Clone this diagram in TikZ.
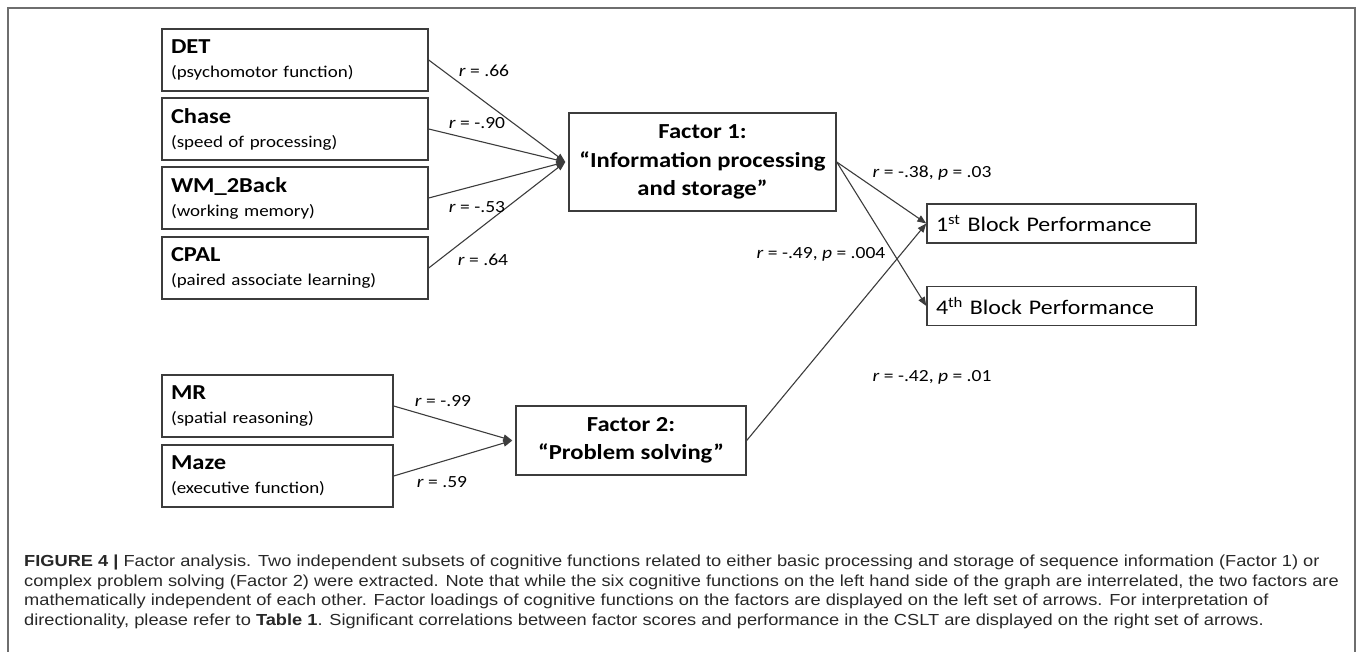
\documentclass[tikz,border=0pt]{standalone}
\usepackage{fontspec}
\setmainfont[FakeStretch=1.15]{Carlito}
\newfontfamily\capfont[FakeStretch=1.14]{Liberation Sans}
\usetikzlibrary{arrows.meta}

\definecolor{traco}{RGB}{60,60,60}
\definecolor{moldura}{RGB}{110,110,110}
\definecolor{legenda}{RGB}{40,40,40}

\begin{document}
\begin{tikzpicture}[x=1pt, y=-1pt,
    caixa/.style={draw=traco, line width=1.4pt, inner ysep=0pt, inner xsep=9pt,
      minimum height=62pt, align=left, font=\fontsize{16.5}{24}\selectfont},
    fator/.style={draw=traco, line width=1.4pt, inner sep=0pt, align=center,
      font=\fontsize{21.4}{28.5}\selectfont\bfseries},
    bloco/.style={draw=traco, line width=1.4pt, inner ysep=0pt, inner xsep=9pt,
      minimum height=39pt, text width=251pt, align=left, font=\fontsize{20.8}{24}\selectfont},
    seta/.style={-{Triangle[length=9pt,width=7pt]}, draw=traco, line width=1.1pt},
    rot/.style={inner sep=0pt, font=\fontsize{17}{18}\selectfont}]

    \useasboundingbox (0,0) rectangle (1357,652);

    % Moldura
    \draw[moldura, line width=1.5pt] (8,652) -- (8,8) -- (1355,8) -- (1355,652);

    % Funcoes cognitivas
    \def\tit{\fontsize{21.3}{24}\selectfont\bfseries}
    \node[caixa, text width=248pt] (D) at (295,60) {{\tit DET}\\(psychomotor function)};
    \node[caixa, text width=248pt] (C) at (295,129) {{\tit Chase}\\(speed of processing)};
    \node[caixa, text width=248pt] (W) at (295,198) {{\tit WM\_2Back}\\(working memory)};
    \node[caixa, text width=248pt] (P) at (295,268) {{\tit CPAL}\\(paired associate learning)};
    \node[caixa, text width=213pt] (M) at (277.5,406) {{\tit MR}\\(spatial reasoning)};
    \node[caixa, text width=213pt] (Z) at (277.5,476) {{\tit Maze}\\(executive function)};

    % Fatores
    \node[fator, minimum width=267pt, minimum height=98pt] (F1) at (702.5,162) {Factor 1:\\“Information processing\\and storage”};
    \node[fator, minimum width=230pt, minimum height=69pt] (F2) at (631,440.5) {Factor 2:\\“Problem solving”};

    % Desempenho
    \node[bloco] (B1) at (1061.5,223.5) {1\textsuperscript{st} Block Performance};
    \node[bloco] (B4) at (1061.5,306) {4\textsuperscript{th} Block Performance};

    % Pontas das setas
    \coordinate (T1) at ([xshift=-3pt]F1.west);
    \coordinate (T2) at ([xshift=-3pt]F2.west);

    % Cargas fatoriais
    \draw[seta] (D.east) -- (T1);
    \draw[seta] (C.east) -- (T1);
    \draw[seta] (W.east) -- (T1);
    \draw[seta] (P.east) -- (T1);
    \draw[seta] (M.east) -- (T2);
    \draw[seta] (Z.east) -- (T2);

    % Correlacoes
    \draw[seta] (F1.east) -- (B1.west);
    \draw[seta] (F1.east) -- (B4.west);
    \draw[seta] (F2.east) -- (B1.west);

    \node[rot] (l66) at (484,71) {\textit{r} = .66};
    \node[rot] (l90) at (477,123) {\textit{r} = -.90};
    \node[rot] (l53) at (477,207) {\textit{r} = -.53};
    \node[rot] (l64) at (483,260) {\textit{r} = .64};
    \node[rot] (l99) at (443,401) {\textit{r} = -.99};
    \node[rot] (l59) at (442,482) {\textit{r} = .59};
    \node[rot] (l38) at (932,173) {\textit{r} = -.38, \textit{p} = .03};
    \node[rot] (l49) at (821,254) {\textit{r} = -.49, \textit{p} = .004};
    \node[rot] (l42) at (932,377) {\textit{r} = -.42, \textit{p} = .01};

    % Legenda
    \node[anchor=north west, inner sep=0pt, align=left, text=legenda,
      font=\capfont\fontsize{16}{19.5}\selectfont] (leg) at (24,555)
      {\textbf{FIGURE 4 |} Factor analysis. Two independent subsets of cognitive functions related to either basic processing and storage of sequence information (Factor 1) or\\
       complex problem solving (Factor 2) were extracted. Note that while the six cognitive functions on the left hand side of the graph are interrelated, the two factors are\\
       mathematically independent of each other. Factor loadings of cognitive functions on the factors are displayed on the left set of arrows. For interpretation of\\
       directionality, please refer to \textbf{Table 1}. Significant correlations between factor scores and performance in the CSLT are displayed on the right set of arrows.};

\end{tikzpicture}
\end{document}
